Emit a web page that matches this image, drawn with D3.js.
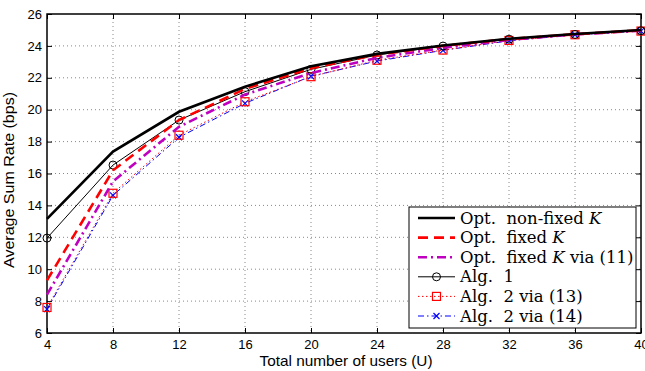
<!DOCTYPE html>
<html>
<head>
<meta charset="utf-8">
<script src="https://cdn.jsdelivr.net/npm/d3@7"></script>
<style>
body { margin: 0; background: #fff; }
svg { display: block; }
</style>
</head>
<body>
<svg id="svg" width="645" height="371"></svg>
<script>
// data
var users = [4, 8, 12, 16, 20, 24, 28, 32, 36, 40];
var optNonFixed = [13.15, 17.37, 19.87, 21.44, 22.72, 23.5, 24.02, 24.45, 24.75, 25.0];
var optFixed = [9.3, 16.2, 19.35, 21.3, 22.6, 23.45, 24.0, 24.43, 24.73, 24.98];
var optFixedVia11 = [8.4, 15.5, 18.93, 20.95, 22.3, 23.25, 23.88, 24.38, 24.72, 24.95];
var alg1 = [11.95, 16.53, 19.35, 21.13, 22.53, 23.43, 23.99, 24.42, 24.72, 24.95];
var alg2via13 = [7.6, 14.76, 18.4, 20.5, 22.07, 23.1, 23.74, 24.34, 24.7, 24.93];
var alg2via14 = [7.5, 14.63, 18.27, 20.4, 22.1, 23.05, 23.72, 24.32, 24.7, 24.93];
var xTicks = [4, 8, 12, 16, 20, 24, 28, 32, 36, 40];
var yTicks = [6, 8, 10, 12, 14, 16, 18, 20, 22, 24, 26];

var series = [
  {name: "Opt.  non-fixed ", k: true, tail: "", values: optNonFixed, color: "#000", width: 2.6, dash: null, marker: null},
  {name: "Opt.  fixed ", k: true, tail: "", values: optFixed, color: "#ff0000", width: 2.6, dash: "10,6", marker: null},
  {name: "Opt.  fixed ", k: true, tail: " via (11)", values: optFixedVia11, color: "#bf00bf", width: 2.6, dash: "9,4,2,4", marker: null},
  {name: "Alg.  1", k: false, tail: "", values: alg1, color: "#000", width: 1, dash: null, marker: "circle"},
  {name: "Alg.  2 via (13)", k: false, tail: "", values: alg2via13, color: "#ff0000", width: 1, dash: "1.5,2.5", marker: "square"},
  {name: "Alg.  2 via (14)", k: false, tail: "", values: alg2via14, color: "#0000ff", width: 1, dash: "6,3,1.5,3", marker: "x"}
];

var svg = d3.select("#svg");
var padding = {top: 14, right: 4, bottom: 38, left: 47};
var chartArea = {
  "width": 645 - padding.left - padding.right,
  "height": 371 - padding.top - padding.bottom
};

var xScale = d3.scaleLinear().domain([4, 40]).range([0, chartArea.width]);
var yScale = d3.scaleLinear().domain([6, 26]).range([chartArea.height, 0]);

var plot = svg.append("g")
  .attr("transform", "translate(" + padding.left + "," + padding.top + ")");

// dotted grid
plot.append("g").selectAll("line").data(xTicks.slice(1, -1)).enter().append("line")
  .attr("x1", d => xScale(d)).attr("x2", d => xScale(d))
  .attr("y1", 0).attr("y2", chartArea.height)
  .attr("stroke", "#888").attr("stroke-width", 1).attr("stroke-dasharray", "1,3");
plot.append("g").selectAll("line").data(yTicks.slice(1, -1)).enter().append("line")
  .attr("y1", d => yScale(d)).attr("y2", d => yScale(d))
  .attr("x1", 0).attr("x2", chartArea.width)
  .attr("stroke", "#888").attr("stroke-width", 1).attr("stroke-dasharray", "1,3");

// axes with inside ticks
var tickStyle = function (g) {
  g.select(".domain").remove();
  g.selectAll("text").attr("font-family", "Liberation Sans, Arial, sans-serif").attr("font-size", 13).attr("fill", "#000");
  g.selectAll("line").attr("stroke", "#000");
};
plot.append("g")
  .attr("transform", "translate(0," + chartArea.height + ")")
  .call(d3.axisBottom(xScale).tickValues(xTicks).tickSizeInner(-5).tickSizeOuter(0).tickPadding(7))
  .call(tickStyle);
plot.append("g")
  .call(d3.axisLeft(yScale).tickValues(yTicks).tickSizeInner(-5).tickSizeOuter(0).tickPadding(5))
  .call(tickStyle);
plot.append("g")
  .call(d3.axisTop(xScale).tickValues(xTicks).tickSizeInner(-5).tickSizeOuter(0).tickFormat(""))
  .call(tickStyle);
plot.append("g")
  .attr("transform", "translate(" + chartArea.width + ",0)")
  .call(d3.axisRight(yScale).tickValues(yTicks).tickSizeInner(-5).tickSizeOuter(0).tickFormat(""))
  .call(tickStyle);

plot.append("rect")
  .attr("width", chartArea.width).attr("height", chartArea.height)
  .attr("fill", "none").attr("stroke", "#000").attr("stroke-width", 1.5);

var line = d3.line().x((d, i) => xScale(users[i])).y(d => yScale(d));

function drawMarker(g, type, color, x, y) {
  if (type === "circle") {
    g.append("circle").attr("cx", x).attr("cy", y).attr("r", 4)
      .attr("fill", "none").attr("stroke", color).attr("stroke-width", 1);
  } else if (type === "square") {
    g.append("rect").attr("x", x - 4).attr("y", y - 4).attr("width", 8).attr("height", 8)
      .attr("fill", "none").attr("stroke", color).attr("stroke-width", 1.2);
  } else if (type === "x") {
    g.append("path").attr("d", "M" + (x - 3) + "," + (y - 3) + "L" + (x + 3) + "," + (y + 3) +
      "M" + (x - 3) + "," + (y + 3) + "L" + (x + 3) + "," + (y - 3))
      .attr("stroke", color).attr("stroke-width", 1.2);
  }
}

var lines = plot.append("g");
series.slice().reverse().forEach(function (s) {
  lines.append("path").datum(s.values)
    .attr("d", line)
    .attr("fill", "none")
    .attr("stroke", s.color)
    .attr("stroke-width", s.width)
    .attr("stroke-dasharray", s.dash);
  if (s.marker) {
    s.values.forEach(function (v, i) {
      drawMarker(lines, s.marker, s.color, xScale(users[i]), yScale(v));
    });
  }
});

// legend
var legend = svg.append("g").attr("transform", "translate(409,207)");
legend.append("rect").attr("width", 227).attr("height", 121)
  .attr("fill", "#fff").attr("stroke", "#000").attr("stroke-width", 1);
series.forEach(function (s, i) {
  var y = 11 + i * 19.6;
  legend.append("line").attr("x1", 9).attr("x2", 46).attr("y1", y).attr("y2", y)
    .attr("stroke", s.color).attr("stroke-width", s.width).attr("stroke-dasharray", s.dash);
  if (s.marker) drawMarker(legend, s.marker, s.color, 27.5, y);
  var t = legend.append("text").attr("x", 51).attr("y", y + 5.5)
    .attr("font-family", "DejaVu Serif, serif").attr("font-size", 16.5)
    .attr("xml:space", "preserve").style("white-space", "pre");
  t.append("tspan").text(s.name);
  if (s.k) t.append("tspan").attr("font-style", "italic").text("K");
  if (s.tail) t.append("tspan").text(s.tail);
});

// axis labels
svg.append("text")
  .attr("x", 346).attr("y", 366)
  .attr("text-anchor", "middle")
  .attr("font-family", "Liberation Sans, Arial, sans-serif").attr("font-size", 14.5)
  .attr("textLength", 173).attr("lengthAdjust", "spacingAndGlyphs")
  .text("Total number of users (U)");
svg.append("text")
  .attr("transform", "translate(14,180) rotate(-90)")
  .attr("text-anchor", "middle")
  .attr("font-family", "Liberation Sans, Arial, sans-serif").attr("font-size", 14.5)
  .attr("textLength", 176).attr("lengthAdjust", "spacingAndGlyphs")
  .text("Average Sum Rate (bps)");
</script>
</body>
</html>
